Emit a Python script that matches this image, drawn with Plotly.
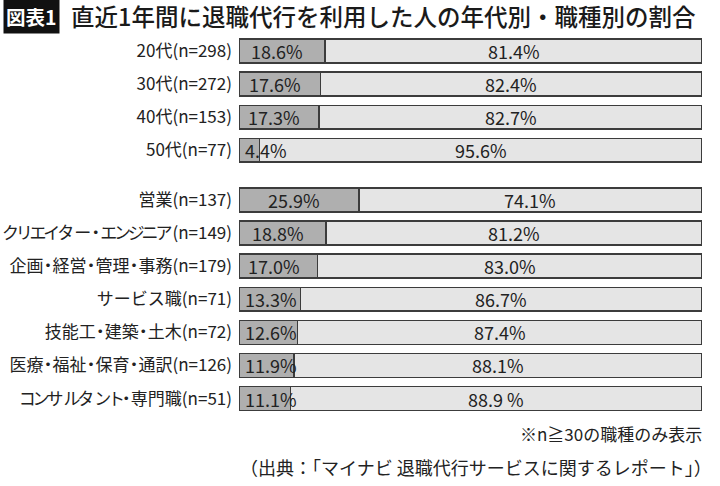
import plotly.graph_objects as go

# ---- data ----
categories = [
    "20代(n=298)", "30代(n=272)", "40代(n=153)", "50代(n=77)",
    "営業(n=137)", "クリエイター・エンジニア(n=149)", "企画・経営・管理・事務(n=179)",
    "サービス職(n=71)", "技能工・建築・土木(n=72)", "医療・福祉・保育・通訳(n=126)",
    "コンサルタント・専門職(n=51)",
]
used = [18.6, 17.6, 17.3, 4.4, 25.9, 18.8, 17.0, 13.3, 12.6, 11.9, 11.1]
not_used = [81.4, 82.4, 82.7, 95.6, 74.1, 81.2, 83.0, 86.7, 87.4, 88.1, 88.9]
not_used_labels = ["81.4%", "82.4%", "82.7%", "95.6%", "74.1%", "81.2%", "83.0%",
                   "86.7%", "87.4%", "88.1%", "88.9 %"]
# row slots: age group, a gap, then occupations
slots = [0, 1, 2, 3, 4.5, 5.5, 6.5, 7.5, 8.5, 9.5, 10.5]

title_tag = "図表1"
title = "直近1年間に退職代行を利用した人の年代別・職種別の割合"
note = "※n≧30の職種のみ表示"
source = "（出典：「マイナビ 退職代行サービスに関するレポート」）"

FONT = "Noto Sans CJK JP"
W, H = 720, 486
L, R, T, B = 239, 18, 35, 70
PW, PH = W - L - R, H - T - B


def px(xp):
    return (xp - L) / PW


def py(yp):
    return (H - B - yp) / PH


# mimic the proportional (condensed) kana / middle dots of the original font
NARROW_KANA = set("クリエイジニンコルトィ")


def tighten(label, dot_sp=-4.0, kana_sp=-3.2):
    out = []
    chars = list(label)
    for i, ch in enumerate(chars):
        nxt = chars[i + 1] if i + 1 < len(chars) else ""
        sp = 0.0
        if ch == "・":
            sp += dot_sp
        if nxt == "・":
            sp += dot_sp
        if ch in NARROW_KANA:
            sp += kana_sp
        if sp:
            out.append(f'<span style="letter-spacing:{sp:.1f}px">{ch}</span>')
        else:
            out.append(ch)
    return "".join(out)


tick_text = [tighten(c) for c in categories]

fig = go.Figure()
fig.add_trace(go.Bar(
    y=slots, x=used, orientation="h", width=0.72,
    marker=dict(color="#afafaf", line=dict(color="#3c3c3c", width=1.5)),
    hoverinfo="skip", showlegend=False,
))
fig.add_trace(go.Bar(
    y=slots, x=not_used, orientation="h", width=0.72,
    marker=dict(color="#e5e5e5", line=dict(color="#3c3c3c", width=1.5)),
    hoverinfo="skip", showlegend=False,
))

annotations = []
half_w = 5.6  # approx half label width in % units
lab_font = dict(size=18, color="#222222", family=FONT)
for s, u, n, lab in zip(slots, used, not_used, not_used_labels):
    cx = u / 2 - 1
    if cx - half_w < 0.9:
        annotations.append(dict(x=0.9, y=s, xref="x", yref="y", text=f"{u:.1f}%",
                                xanchor="left", yanchor="middle", showarrow=False,
                                font=lab_font))
    else:
        annotations.append(dict(x=cx, y=s, xref="x", yref="y", text=f"{u:.1f}%",
                                xanchor="center", yanchor="middle", showarrow=False,
                                font=lab_font))
    annotations.append(dict(x=u + n / 2, y=s, xref="x", yref="y", text=lab,
                            xanchor="center", yanchor="middle", showarrow=False,
                            font=lab_font))

annotations.append(dict(x=px(3), y=py(16), xref="paper", yref="paper",
                        text=f"<b>{title_tag}</b>", xanchor="left", yanchor="middle",
                        showarrow=False, bgcolor="#111111", borderpad=2,
                        font=dict(size=19.5, color="white", family=FONT)))
annotations.append(dict(x=px(69), y=py(16), xref="paper", yref="paper",
                        text=title, xanchor="left", yanchor="middle", showarrow=False,
                        font=dict(size=23.5, color="#1a1a1a", family=FONT, weight=500)))
annotations.append(dict(x=px(704), y=py(433), xref="paper", yref="paper",
                        text=note, xanchor="right", yanchor="middle", showarrow=False,
                        font=dict(size=17, color="#222222", family=FONT)))
annotations.append(dict(x=px(714), y=py(467), xref="paper", yref="paper",
                        text=source, xanchor="right", yanchor="middle", showarrow=False,
                        font=dict(size=18, color="#222222", family=FONT)))

pitch = 33.1
top_center = 51
y0 = -(top_center - T) / pitch
y1 = (H - B - top_center) / pitch

fig.update_layout(
    width=W, height=H, barmode="stack",
    margin=dict(l=L, r=R, t=T, b=B, autoexpand=False),
    paper_bgcolor="white", plot_bgcolor="white",
    font=dict(family=FONT, color="#222222"),
    xaxis=dict(range=[0, 100], visible=False, fixedrange=True, automargin=False),
    yaxis=dict(range=[y1, y0], tickvals=slots, ticktext=tick_text,
               showgrid=False, zeroline=False, showline=False, ticks="",
               ticklabelstandoff=6, automargin=False,
               tickfont=dict(size=17, color="#222222", family=FONT), fixedrange=True),
    annotations=annotations,
)

fig.write_html("out.html", config={"displayModeBar": False},
               post_script="document.body.style.margin='0';")
